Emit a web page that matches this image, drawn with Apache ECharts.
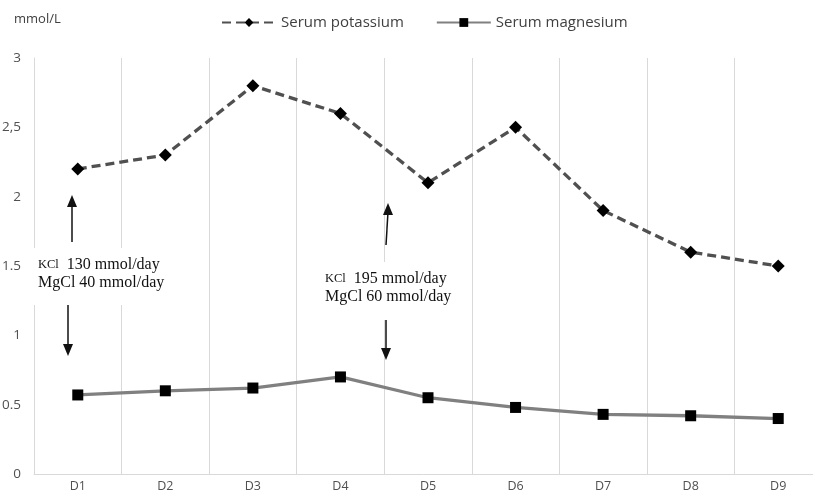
<!DOCTYPE html>
<html>
<head>
<meta charset="utf-8">
<script src="https://cdn.jsdelivr.net/npm/echarts@6/dist/echarts.min.js"></script>
<style>html,body{margin:0;padding:0;background:#fff;}#c{width:813px;height:494px;}</style>
</head>
<body>
<div id="c"></div>
<script>
const categories = ['D1','D2','D3','D4','D5','D6','D7','D8','D9'];
const potassium = [2.2, 2.3, 2.8, 2.6, 2.1, 2.5, 1.9, 1.6, 1.5];
const magnesium = [0.57, 0.6, 0.62, 0.7, 0.55, 0.48, 0.43, 0.42, 0.4];
const yTickLabels = ['0','0.5','1','1.5','2','2,5','3'];
const seriesNames = ['Serum potassium','Serum magnesium'];
const unitLabel = 'mmol/L';
const note1 = ['{s|KCl}  130 mmol/day', 'MgCl 40 mmol/day'];
const note2 = ['{s|KCl}  195 mmol/day', 'MgCl 60 mmol/day'];

const chart = echarts.init(document.getElementById('c'), null, {renderer:'canvas'});
const sans = '"Open Sans", "Noto Sans", sans-serif';
const serifFont = '"Liberation Serif", serif';
const serifRich = {s:{fontSize:12.5, fontFamily:serifFont, color:'#111'}};

function arrow(x1, y1, x2, y2) {
  const dir = y2 < y1 ? -1 : 1;
  return [
    {type:'line', z:101, shape:{x1:x1, y1:y1, x2:x2, y2:y2 - dir*9}, style:{stroke:'#111', lineWidth:1.5}},
    {type:'polygon', z:101, shape:{points:[[x2, y2],[x2-5, y2 - dir*12],[x2+5, y2 - dir*12]]}, style:{fill:'#111'}}
  ];
}

const option = {
  animation:false,
  backgroundColor:'#fff',
  grid:{left:34, top:58, width:788, bottom:20, containLabel:false, outerBoundsMode:'none'},
  legend:{
    left:216, top:10, itemWidth:54, itemHeight:11, itemGap:32,
    textStyle:{fontFamily:sans, fontSize:15, color:'#404040'},
    data:seriesNames
  },
  xAxis:{
    type:'category', data:categories, boundaryGap:true,
    axisLine:{lineStyle:{color:'#d9d9d9', width:1}},
    axisTick:{show:false},
    axisLabel:{fontFamily:sans, fontSize:12.5, color:'#505050', margin:6},
    splitLine:{show:true, lineStyle:{color:'#d9d9d9', width:1}}
  },
  yAxis:{
    type:'value', min:0, max:3, interval:0.5,
    axisLine:{show:true, lineStyle:{color:'#d9d9d9', width:1}},
    axisTick:{show:false},
    splitLine:{show:false},
    axisLabel:{fontFamily:sans, fontSize:13.5, color:'#505050', margin:13,
      formatter:function(v){ return yTickLabels[Math.round(v/0.5)]; }}
  },
  series:[
    {name:seriesNames[0], type:'line', data:potassium, symbol:'diamond', symbolSize:13,
     lineStyle:{color:'#505050', width:3.3, type:[9,5]}, itemStyle:{color:'#000'}, z:3},
    {name:seriesNames[1], type:'line', data:magnesium, symbol:'rect', symbolSize:11,
     lineStyle:{color:'#808080', width:3.3}, itemStyle:{color:'#000'}, z:3}
  ],
  graphic:[
    {type:'text', left:14, top:13, style:{text:unitLabel, font:'13px ' + sans, fill:'#404040'}},
    {type:'rect', z:100, shape:{x:28, y:248, width:148, height:57}, style:{fill:'#fff'}},
    {type:'rect', z:100, shape:{x:316, y:262, width:145, height:58}, style:{fill:'#fff'}},
    {type:'text', z:101, x:38, y:256, style:{text:note1.join('\n'), font:'16px ' + serifFont, fill:'#111', lineHeight:18, rich:serifRich}},
    {type:'text', z:101, x:325, y:270, style:{text:note2.join('\n'), font:'16px ' + serifFont, fill:'#111', lineHeight:18, rich:serifRich}},
    ...arrow(72, 242, 72, 195),
    ...arrow(68, 305, 68, 356),
    ...arrow(386, 245, 388, 203),
    ...arrow(386, 320, 386, 360)
  ]
};
chart.setOption(option);
</script>
</body>
</html>
